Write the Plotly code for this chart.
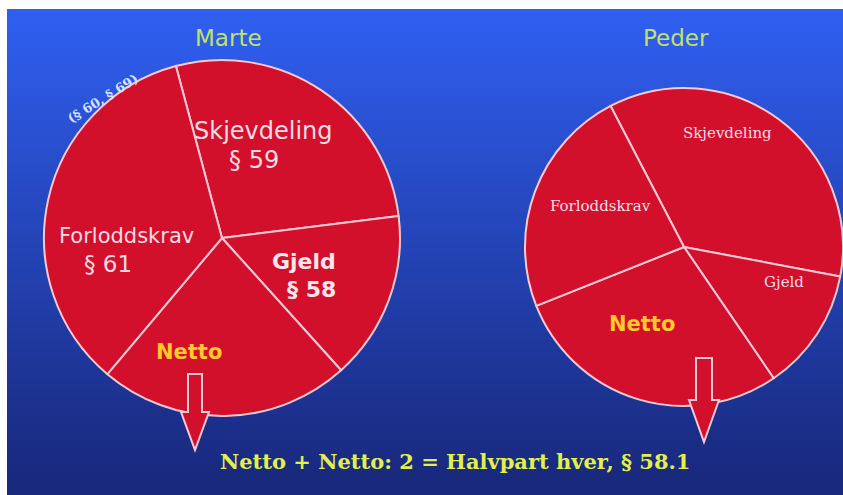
import plotly.graph_objects as go
import numpy as np

# ---- data ----
slice_labels = ["Skjevdeling", "Gjeld", "Netto", "Forloddskrav"]
marte_values = [27.2, 15.3, 22.8, 34.7]
peder_values = [35.6, 12.5, 28.5, 23.4]
titles = ["Marte", "Peder"]
footer = "Netto + Netto: 2 = Halvpart hver, § 58.1"

W, H = 843, 495
RED = "#d3102c"
EDGE = "#f7c9d3"

fig = go.Figure()

def px(x):
    return x / W

def py(y):
    return 1 - y / H

fig.add_trace(go.Pie(
    labels=slice_labels, values=marte_values, sort=False, direction="clockwise",
    rotation=-15, textinfo="none", hoverinfo="skip", showlegend=False,
    marker=dict(colors=[RED] * 4, line=dict(color=EDGE, width=2)),
    domain=dict(x=[px(222 - 178), px(222 + 178)], y=[py(238 + 178), py(238 - 178)]),
))
fig.add_trace(go.Pie(
    labels=slice_labels, values=peder_values, sort=False, direction="clockwise",
    rotation=-27.5, textinfo="none", hoverinfo="skip", showlegend=False,
    marker=dict(colors=[RED] * 4, line=dict(color=EDGE, width=2)),
    domain=dict(x=[px(684 - 159), px(684 + 159)], y=[py(247 + 159), py(247 - 159)]),
))

# ---- background gradient (each band runs to the bottom, so no seams) ----
shapes = []
n = 60
top, bot = 9, H
c0 = np.array([48, 95, 240])
c1 = np.array([24, 40, 122])
for i in range(n):
    y0 = top + (bot - top) * i / n
    tt = i / (n - 1)
    c = (c0 * (1 - tt) + c1 * tt).astype(int)
    shapes.append(dict(type="rect", xref="paper", yref="paper", layer="below",
                       x0=px(7), x1=1, y0=0, y1=py(y0),
                       fillcolor=f"rgb({c[0]},{c[1]},{c[2]})", line=dict(width=0)))

# ---- arrows ----
def arrow(cx, sw, top_y, head_y, hw, tip_y):
    pts = [(cx - sw, top_y), (cx + sw, top_y), (cx + sw, head_y), (cx + hw, head_y),
           (cx, tip_y), (cx - hw, head_y), (cx - sw, head_y)]
    path = "M " + " L ".join(f"{px(x):.5f},{py(y):.5f}" for x, y in pts) + " Z"
    return dict(type="path", xref="paper", yref="paper", path=path,
                fillcolor=RED, line=dict(color=EDGE, width=2), layer="above")

shapes.append(arrow(195, 7, 374, 412, 14, 450))
shapes.append(arrow(704, 8, 358, 400, 15, 442))

# ---- text ----
ann = []
SANS = "DejaVu Sans, Arial, sans-serif"
SERIF = "DejaVu Serif, Liberation Serif, serif"

def t(x, y, text, size, color, family=SANS, angle=0):
    ann.append(dict(x=px(x), y=py(y), xref="paper", yref="paper", text=text,
                    showarrow=False, font=dict(size=size, color=color, family=family),
                    xanchor="center", yanchor="middle", textangle=angle))

GREEN = "#bfe36a"
PINK = "#f6dbe3"
YEL = "#ffc92a"

t(228, 38, titles[0], 23, GREEN)
t(676, 38, titles[1], 23, GREEN)

t(263, 131, slice_labels[0], 24, PINK)
t(254, 160, "§ 59", 24, PINK)
t(127, 236, slice_labels[3], 21, PINK)
t(108, 264, "§ 61", 23, PINK)
t(304, 261, "<b>" + slice_labels[1] + "</b>", 22, "#fbe6ec")
t(311, 289, "<b>§ 58</b>", 22, "#fbe6ec")
t(189, 352, "<b>" + slice_labels[2] + "</b>", 21, YEL)
t(103, 99, "<b>(§ 60, § 69)</b>", 13, "#d6e2ff", SERIF, angle=-32)

t(727, 133, slice_labels[0], 15, PINK, SERIF)
t(600, 206, slice_labels[3], 15, PINK, SERIF)
t(784, 282, slice_labels[1], 15, PINK, SERIF)
t(642, 324, "<b>" + slice_labels[2] + "</b>", 21, YEL)

t(455, 461, "<b>" + footer + "</b>", 21, "#e2f04a", SERIF)

fig.update_layout(
    width=W, height=H, margin=dict(l=0, r=0, t=0, b=0),
    paper_bgcolor="white", plot_bgcolor="white",
    shapes=shapes, annotations=ann, showlegend=False,
)

fig.write_html("out.html", config={"displayModeBar": False},
               post_script="document.body.style.margin='0px';")
